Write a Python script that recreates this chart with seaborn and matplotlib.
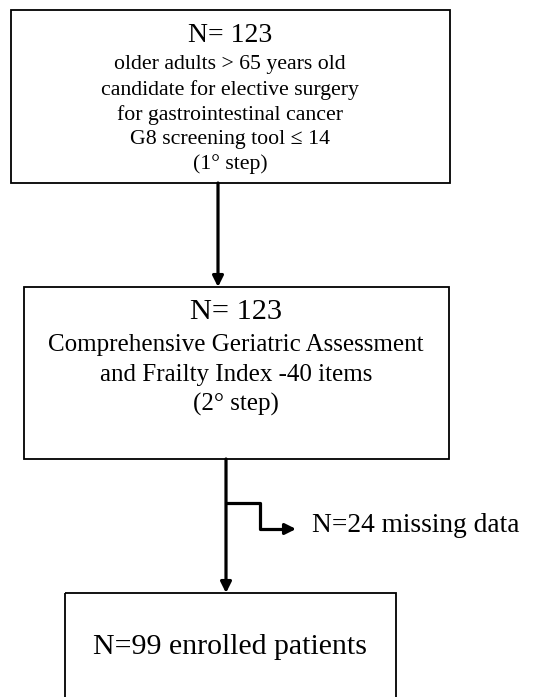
import matplotlib
matplotlib.use('Agg')
import seaborn as sns
import pandas as pd
from matplotlib import pyplot as plt
from matplotlib.patches import Rectangle

# flowchart content
counts = [123, 123, 99]
n_missing = 24
step1_lines = [
    'older adults > 65 years old',
    'candidate for elective surgery',
    'for gastrointestinal cancer',
    'G8 screening tool \u2264 14',
    '(1\u00b0 step)',
]
step2_lines = [
    'Comprehensive Geriatric Assessment',
    'and Frailty Index -40 items',
    '(2\u00b0 step)',
]
final_label = 'enrolled patients'
missing_label = 'missing data'

sns.set_theme(style='white')
plt.rcParams['font.family'] = ['Liberation Serif', 'DejaVu Serif']
plt.rcParams['text.color'] = 'black'

fig = plt.figure(figsize=(5.41, 6.97), dpi=100)
ax = fig.add_axes([0, 0, 1, 1])

# layout (pixels): x0, y0, x1, y1
boxes = [(11, 10, 450, 183), (24, 287, 449, 459), (65, 593, 396, 760)]
for x0, y0, x1, y1 in boxes:
    ax.add_patch(Rectangle((x0, y0), x1 - x0, y1 - y0, fill=False,
                           edgecolor='black', lw=1.3))

# box 1
ax.text(230, 36, f'N= {counts[0]}', ha='center', va='center', fontsize=20)
for i, line in enumerate(step1_lines):
    ax.text(230, 65 + i * 24.8, line, ha='center', va='center', fontsize=15.7)

# box 2
ax.text(236, 312, f'N= {counts[1]}', ha='center', va='center', fontsize=21.9)
for i, line in enumerate(step2_lines):
    ax.text(236, 345 + i * 29.5, line, ha='center', va='center', fontsize=18)

# box 3
ax.text(230, 647, f'N={counts[2]} {final_label}', ha='center', va='center',
        fontsize=21.5)

# arrows
arrow = dict(arrowstyle='-|>', lw=2.3, color='black', mutation_scale=16,
             shrinkA=0, shrinkB=0)
ax.annotate('', xy=(218, 287), xytext=(218, 183), arrowprops=arrow)
ax.annotate('', xy=(226, 593), xytext=(226, 459), arrowprops=arrow)

branch = pd.DataFrame({'x': [226, 260, 260, 285], 'y': [503, 503, 529, 529]})
sns.lineplot(data=branch, x='x', y='y', sort=False, estimator=None,
             color='black', lw=2.3, ax=ax)
ax.annotate('', xy=(296, 529), xytext=(284, 529), arrowprops=arrow)
ax.text(312, 526, f'N={n_missing} {missing_label}', ha='left', va='center',
        fontsize=19.8)

ax.set_xlim(0, 541)
ax.set_ylim(697, 0)
ax.axis('off')
fig.savefig('out.png', dpi=100, facecolor='white')
